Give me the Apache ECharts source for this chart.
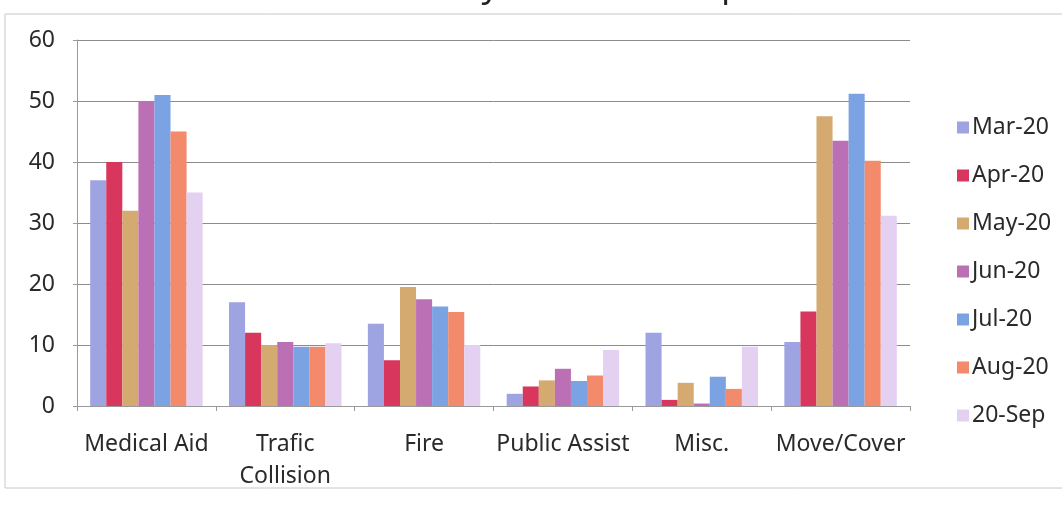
<!DOCTYPE html>
<html>
<head>
<meta charset="utf-8">
<script src="https://cdn.jsdelivr.net/npm/echarts@6/dist/echarts.min.js"></script>
<style>
html,body{margin:0;padding:0;background:#fff;}
#chart{width:1062px;height:510px;}
</style>
</head>
<body>
<div id="chart"></div>
<script>
const titleText = 'Monthly Incident Comparison';
const categories = ['Medical Aid', 'Trafic\nCollision', 'Fire', 'Public Assist', 'Misc.', 'Move/Cover'];
const seriesNames = ['Mar-20', 'Apr-20', 'May-20', 'Jun-20', 'Jul-20', 'Aug-20', '20-Sep'];
const mar20 = [37, 17, 13.5, 2, 12, 10.5];
const apr20 = [40, 12, 7.5, 3.2, 1, 15.5];
const may20 = [32, 10, 19.5, 4.2, 3.8, 47.5];
const jun20 = [50, 10.5, 17.5, 6.1, 0.4, 43.5];
const jul20 = [51, 9.7, 16.3, 4.1, 4.8, 51.2];
const aug20 = [45, 9.7, 15.4, 5, 2.8, 40.2];
const sep20 = [35, 10.3, 10, 9.2, 9.7, 31.2];
const yTicks = [0, 10, 20, 30, 40, 50, 60];

const values = [mar20, apr20, may20, jun20, jul20, aug20, sep20];
const colors = ['#9ea3e2', '#d8365c', '#d4aa70', '#bb70b6', '#7ba2e3', '#f38a6c', '#e4d0f0'];
const font = 'Noto Sans';

const chart = echarts.init(document.getElementById('chart'));
chart.setOption({
  animation: false,
  backgroundColor: '#fff',
  textStyle: { fontFamily: font },
  graphic: [
    { type: 'rect', shape: { x: 5, y: 14, width: 1100, height: 474 }, style: { fill: 'none', stroke: '#c8c8c8', lineWidth: 1 } },
    { type: 'text', x: 842, y: 4, style: { text: titleText, fontSize: 34, fontFamily: font, fill: '#222', align: 'right', verticalAlign: 'bottom' } }
  ],
  grid: { left: 77, right: 152, top: 40, bottom: 104, containLabel: false },
  legend: {
    orient: 'vertical', left: 952, top: 111,
    itemWidth: 12, itemHeight: 12, itemGap: 25,
    icon: 'rect',
    textStyle: { fontSize: 23, color: '#2a2a2a', fontFamily: font, padding: [0, 0, 0, -2] },
    data: seriesNames
  },
  xAxis: {
    type: 'category', data: categories,
    axisLine: { lineStyle: { color: '#9a9a9a' } },
    axisTick: { show: true, alignWithLabel: false, length: 5, lineStyle: { color: '#9a9a9a' } },
    axisLabel: { fontSize: 23, color: '#2a2a2a', margin: 22, lineHeight: 32, interval: 0 }
  },
  yAxis: {
    type: 'value', min: yTicks[0], max: yTicks[yTicks.length - 1], interval: 10,
    axisLine: { show: true, lineStyle: { color: '#9a9a9a' } },
    axisTick: { show: true, length: 4, lineStyle: { color: '#9a9a9a' } },
    axisLabel: { fontSize: 23, color: '#2a2a2a', margin: 22 },
    splitLine: { lineStyle: { color: '#8c8c8c', width: 1 } }
  },
  series: seriesNames.map((n, i) => ({
    name: n, type: 'bar', data: values[i],
    barGap: '0%', barCategoryGap: '19%',
    itemStyle: { color: colors[i] }
  }))
});
</script>
</body>
</html>
